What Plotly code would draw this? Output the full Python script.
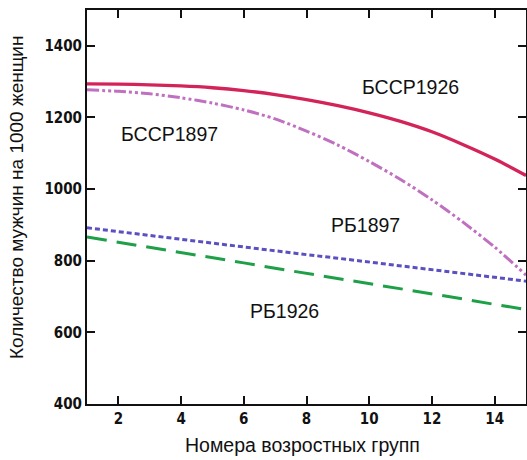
import plotly.graph_objects as go

age_groups = list(range(1, 16))
bssr1926 = [1294, 1293, 1291, 1288, 1283, 1275, 1264, 1250, 1233, 1213, 1189, 1160, 1124, 1084, 1038]
bssr1897 = [1277, 1273, 1266, 1255, 1240, 1221, 1196, 1162, 1123, 1077, 1027, 970, 907, 838, 760]
rb1897 = [892, 881, 870, 859, 849, 838, 827, 817, 807, 796, 786, 775, 765, 754, 743]
rb1926 = [866, 852, 837, 823, 808, 794, 779, 765, 750, 736, 721, 707, 693, 678, 664]
x_ticks = [2, 4, 6, 8, 10, 12, 14]
y_ticks = [400, 600, 800, 1000, 1200, 1400]

fig = go.Figure()
fig.add_trace(go.Scatter(x=age_groups, y=rb1926, mode="lines", name="РБ1926",
                         line=dict(color="#1fa048", width=3, dash="20px,10px")))
fig.add_trace(go.Scatter(x=age_groups, y=rb1897, mode="lines", name="РБ1897",
                         line=dict(color="#5a50c0", width=3, dash="5px,3px")))
fig.add_trace(go.Scatter(x=age_groups, y=bssr1897, mode="lines", name="БССР1897",
                         line=dict(color="#c070c0", width=3, dash="12px,3px,3px,3px,3px,3px",
                                   shape="spline", smoothing=0.8)))
fig.add_trace(go.Scatter(x=age_groups, y=bssr1926, mode="lines", name="БССР1926",
                         line=dict(color="#d3245a", width=3.3, shape="spline", smoothing=0.8)))

lab_font = dict(family="Liberation Sans, Arial, sans-serif", size=19.5, color="#111111")
for txt, lx, ly in [("БССР1926", 11.32, 1285), ("БССР1897", 3.62, 1154),
                    ("РБ1897", 9.89, 901), ("РБ1926", 7.31, 659)]:
    fig.add_annotation(x=lx, y=ly, text=txt, showarrow=False, font=lab_font)

fig.add_annotation(xref="paper", yref="paper", x=-0.162, y=0.525, text="Количество мужчин на 1000 женщин",
                   textangle=-90, showarrow=False, xanchor="center", yanchor="middle",
                   font=dict(family="Liberation Sans, Arial, sans-serif", size=19, color="#111111"))
fig.add_annotation(xref="paper", yref="paper", x=0.492, y=-0.104, text="Номера возростных групп",
                   showarrow=False, xanchor="center", yanchor="middle",
                   font=dict(family="Liberation Sans, Arial, sans-serif", size=19.5, color="#111111"))

tick_font = dict(family="Liberation Sans Narrow, DejaVu Sans Condensed, Arial Narrow, sans-serif",
                 size=15, color="#111111", weight="bold")

fig.update_layout(
    width=527, height=460,
    margin=dict(l=87, r=1, t=10, b=56),
    paper_bgcolor="white", plot_bgcolor="white",
    showlegend=False,
    xaxis=dict(range=[1, 15], tickvals=x_ticks, ticks="inside", ticklen=8, tickwidth=2,
               tickcolor="#111111", showline=True, linewidth=2, linecolor="#111111",
               mirror="allticks", showgrid=False, zeroline=False, tickfont=tick_font,
               automargin=False),
    yaxis=dict(range=[400, 1500], tickvals=y_ticks, ticks="inside", ticklen=8, tickwidth=2,
               tickcolor="#111111", showline=True, linewidth=2, linecolor="#111111",
               mirror="allticks", showgrid=False, zeroline=False, tickfont=tick_font,
               automargin=False),
)

fig.write_html("out.html", config={"displayModeBar": False},
               post_script="document.body.style.margin='0';")
